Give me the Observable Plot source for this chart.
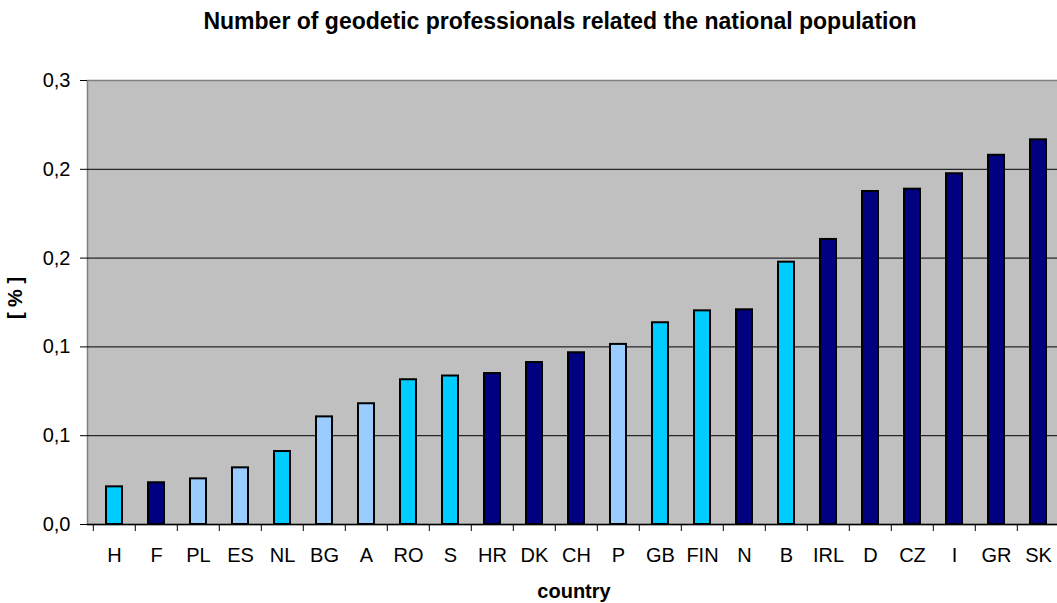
<!DOCTYPE html>
<html>
<head>
<meta charset="utf-8">
<script src="https://cdn.jsdelivr.net/npm/d3@7"></script>
<script src="https://cdn.jsdelivr.net/npm/@observablehq/plot@0.6"></script>
<style>
  body { margin: 0; background: white; overflow: hidden; }
  #wrap { position: relative; width: 1057px; height: 603px; font-family: "Liberation Sans", Arial, sans-serif; color: black; background: white; overflow: hidden; }
  #chart { position: absolute; left: 0; top: 40px; }
  .lbl { position: absolute; white-space: nowrap; font-weight: bold; line-height: 1; }
  #title { font-size: 23px; left: 560px; top: 10px; transform: translateX(-50%); }
  #xlabel { font-size: 20px; left: 574px; top: 581px; transform: translateX(-50%); }
  #ylabel { font-size: 20px; left: 15px; top: 298px; transform: translate(-50%, -50%) rotate(-90deg); }
</style>
</head>
<body>
<div id="wrap">
  <div id="title" class="lbl">Number of geodetic professionals related the national population</div>
  <div id="chart"></div>
  <div id="ylabel" class="lbl">[ % ]</div>
  <div id="xlabel" class="lbl">country</div>
</div>
<script>
const countries = ["H","F","PL","ES","NL","BG","A","RO","S","HR","DK","CH","P","GB","FIN","N","B","IRL","D","CZ","I","GR","SK"];
const values = [0.0212,0.0235,0.0257,0.0319,0.0411,0.0606,0.0680,0.0815,0.0836,0.0850,0.0912,0.0967,0.1014,0.1136,0.1203,0.1209,0.1477,0.1605,0.1875,0.1888,0.1975,0.2079,0.2166];
const groups = ["g1","g2","g3","g3","g1","g3","g3","g1","g1","g2","g2","g2","g3","g1","g1","g2","g1","g2","g2","g2","g2","g2","g2"];
const groupNames = ["g1","g2","g3"];
const groupColors = ["#00CCFF","#000080","#99CCFF"];
const yTicks = [0, 0.05, 0.1, 0.15, 0.2, 0.25];
const yTickLabels = ["0,0","0,1","0,1","0,2","0,2","0,3"];

const data = countries.map((c, i) => ({country: c, value: values[i], group: groups[i]}));

const x0 = 88, x1 = 1063;
const step = (x1 - x0) / countries.length;

const chart = Plot.plot({
  width: 1057,
  height: 563,
  marginTop: 40,
  marginBottom: 79,
  marginLeft: 87,
  marginRight: -10,
  style: {fontFamily: "'Liberation Sans', Arial, sans-serif", fontSize: "20px", color: "black", background: "white", overflow: "hidden"},
  x: {domain: countries, range: [x0, x1], paddingInner: 0.62, paddingOuter: 0.31, label: null},
  y: {domain: [0, 0.25], label: null},
  color: {domain: groupNames, range: groupColors},
  marks: [
    Plot.frame({fill: "#C0C0C0", stroke: "#808080", strokeWidth: 1.5}),
    Plot.gridY({ticks: [0.05, 0.1, 0.15, 0.2], stroke: "black", strokeOpacity: 1, strokeWidth: 1}),
    Plot.barY(data, {x: "country", y: "value", fill: "group", stroke: "black", strokeWidth: 2}),
    Plot.ruleY([0], {stroke: "black", strokeWidth: 1.5}),
    Plot.axisY({ticks: yTicks, tickFormat: d => yTickLabels[yTicks.indexOf(d)], tickSize: 7, tickPadding: 10, fontSize: 20, stroke: "black", label: null}),
    Plot.axisX({tickSize: 7, tickFormat: () => "", dx: -step / 2, stroke: "black", label: null}),
    Plot.axisX({tickSize: 0, tickPadding: 23, fontSize: 20, label: null})
  ]
});
document.getElementById("chart").appendChild(chart);
</script>
</body>
</html>
